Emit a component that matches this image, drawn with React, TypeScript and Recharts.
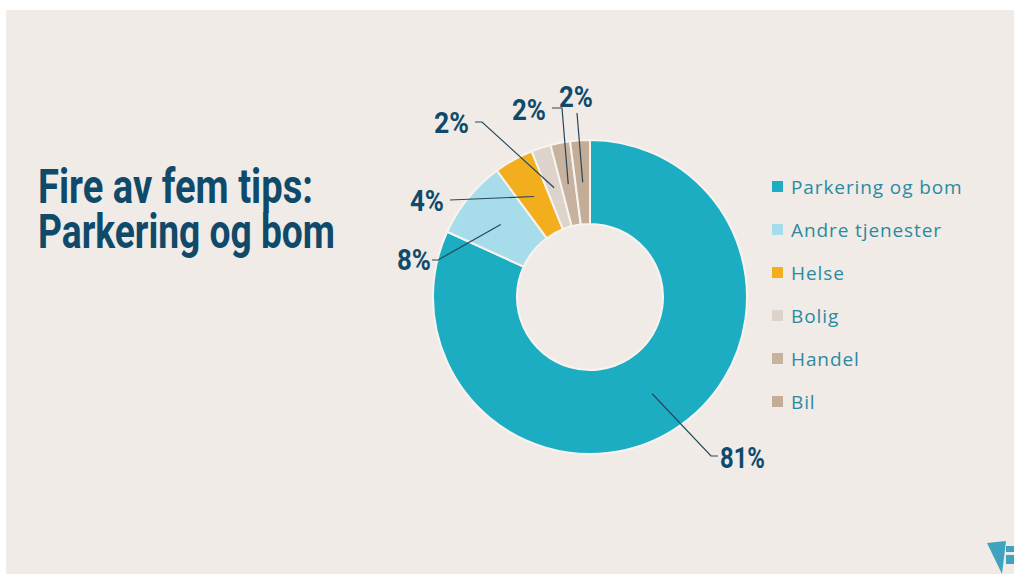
import { PieChart, Pie, Cell, Legend } from "recharts";

// Kategorier og andeler (prosent)
const categories = [
  "Parkering og bom",
  "Andre tjenester",
  "Helse",
  "Bolig",
  "Handel",
  "Bil",
];
const shares = [81, 8, 4, 2, 2, 2];
const colors = ["#1cadc2", "#a7dcea", "#f2ae1d", "#ddd3ca", "#c6b29e", "#c3ad97"];

// Plassering av etikettene relativt til sentrum (ledelinje: start -> knekk -> hale)
const labelLayout = [
  { elbow: [121, 159], tail: 7, text: [130, 161], anchor: "start", w: 45 },
  { elbow: [-152, -37], tail: -6, text: [-159, -37], anchor: "end", w: 34 },
  { elbow: [-140, -97], tail: 0, text: [-146, -96], anchor: "end", w: 34 },
  { elbow: [-108, -175], tail: -7, text: [-121, -174], anchor: "end", w: 35 },
  { elbow: [-28, -189], tail: -10, text: [-44, -187], anchor: "end", w: 34 },
  { elbow: [-13, -184], tail: 0, text: [-14, -200], anchor: "middle", w: 34 },
];

const data = categories.map((name, i) => ({ name, value: shares[i] }));

const BG = "#f0ebe7";
const DARK = "#0f4a6a";
const RAD = Math.PI / 180;
const boldFont = "Roboto, 'DejaVu Sans', sans-serif";

function renderLabel(props: any) {
  const { cx, cy, midAngle, innerRadius, outerRadius, index } = props;
  const r = (innerRadius + outerRadius) / 2;
  const sx = cx + r * Math.cos(-midAngle * RAD);
  const sy = cy + r * Math.sin(-midAngle * RAD);
  const l = labelLayout[index];
  const ex = cx + l.elbow[0];
  const ey = cy + l.elbow[1];
  const pts = `${sx},${sy} ${ex},${ey} ${ex + l.tail},${ey}`;
  return (
    <g key={`lbl-${index}`}>
      <polyline points={pts} fill="none" stroke="#27465a" strokeWidth={1.2} />
      <text
        x={cx + l.text[0]}
        y={cy + l.text[1]}
        textAnchor={l.anchor}
        dominantBaseline="central"
        fill={DARK}
        fontFamily={boldFont}
        fontWeight={700}
        fontSize={29}
        textLength={l.w}
        lengthAdjust="spacingAndGlyphs"
      >
        {shares[index]}%
      </text>
    </g>
  );
}

function renderLegend() {
  return (
    <div>
      {categories.map((c, i) => (
        <div
          key={c}
          style={{ display: "flex", alignItems: "center", height: 43 }}
        >
          <span
            style={{
              width: 11,
              height: 11,
              background: colors[i],
              marginRight: 8,
              display: "inline-block",
            }}
          />
          <span
            style={{
              fontFamily: "'Open Sans', Lato, sans-serif",
              fontSize: 19,
              letterSpacing: 0.9,
              color: "#2b8aa1",
            }}
          >
            {c}
          </span>
        </div>
      ))}
    </div>
  );
}

export default function App() {
  return (
    <div
      style={{
        position: "absolute",
        left: 6,
        top: 10,
        width: 1008,
        height: 564,
        background: BG,
        overflow: "hidden",
      }}
    >
      <svg
        width={420}
        height={120}
        style={{ position: "absolute", left: 0, top: 150 }}
      >
        <text
          x={32}
          y={43}
          fill={DARK}
          fontFamily={boldFont}
          fontWeight={700}
          fontSize={48}
          textLength={275}
          lengthAdjust="spacingAndGlyphs"
        >
          Fire av fem tips:
        </text>
        <text
          x={32}
          y={88}
          fill={DARK}
          fontFamily={boldFont}
          fontWeight={700}
          fontSize={48}
          textLength={297}
          lengthAdjust="spacingAndGlyphs"
        >
          Parkering og bom
        </text>
      </svg>

      <PieChart
        width={1008}
        height={564}
        margin={{ top: 0, right: 0, bottom: 0, left: 0 }}
      >
        <Pie
          data={data}
          dataKey="value"
          nameKey="name"
          cx={584}
          cy={287}
          innerRadius={73}
          outerRadius={157}
          startAngle={90}
          endAngle={-270}
          stroke="#f7f4f0"
          strokeWidth={2}
          label={renderLabel}
          labelLine={false}
          isAnimationActive={false}
        >
          {data.map((d, i) => (
            <Cell key={d.name} fill={colors[i]} />
          ))}
        </Pie>
        <Legend
          content={renderLegend}
          layout="vertical"
          wrapperStyle={{ position: "absolute", left: 766, top: 155, width: 240 }}
        />
      </PieChart>

      <svg
        width={30}
        height={40}
        style={{ position: "absolute", left: 978, top: 528 }}
      >
        <polygon points="3,5 22,3 18,36" fill="#3fa3bf" />
        <rect x={22} y={8} width={8} height={18} fill="#3fa3bf" />
        <rect x={22} y={14} width={8} height={3} fill={BG} />
      </svg>
    </div>
  );
}
